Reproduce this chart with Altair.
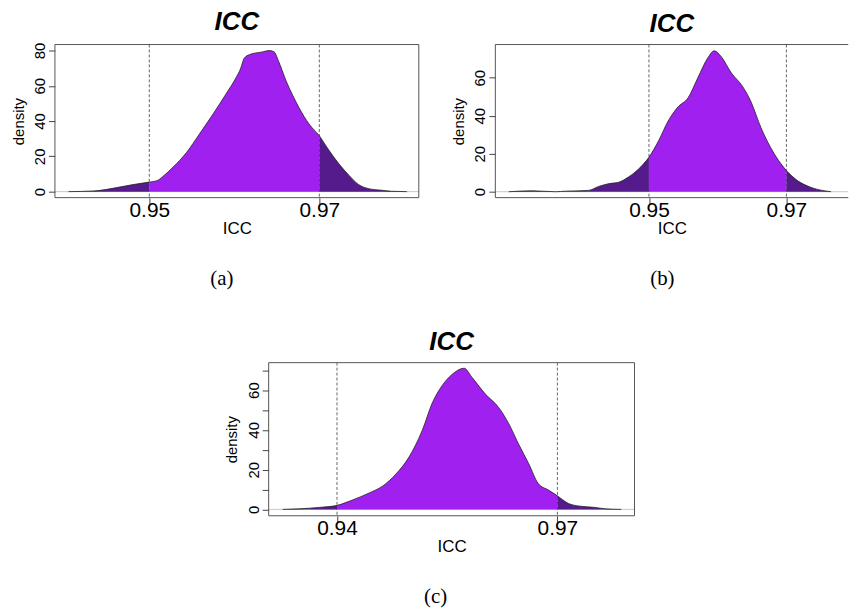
import altair as alt
import pandas as pd

# ---- data ----
A_x = [0.9405, 0.9435, 0.9462, 0.9481, 0.9500, 0.9509, 0.9516, 0.9528, 0.9544, 0.9559,
       0.9575, 0.9590, 0.9602, 0.9607, 0.9612, 0.9618, 0.9633, 0.9641, 0.9647, 0.9652,
       0.9661, 0.9669, 0.9676, 0.9688, 0.9700, 0.9711, 0.9723, 0.9735, 0.9746, 0.9758,
       0.9774, 0.9785, 0.9803]
A_y = [0.0, 0.4, 2.3, 4.0, 5.4, 6.2, 8.6, 13.9, 22.3, 32.7,
       44.0, 55.2, 64.6, 69.3, 75.9, 77.7, 79.2, 80.0, 79.2, 74.0,
       62.7, 54.3, 47.7, 38.3, 31.7, 23.7, 15.8, 9.2, 4.1, 1.7,
       0.75, 0.2, 0.0]

B_x = [0.9296, 0.9330, 0.9364, 0.9379, 0.9412, 0.9427, 0.9441, 0.9456, 0.9470, 0.9485,
       0.9500, 0.9514, 0.9528, 0.9542, 0.9557, 0.9571, 0.9586, 0.9595, 0.9605, 0.9620,
       0.9636, 0.9648, 0.9663, 0.9677, 0.9700, 0.9716, 0.9735, 0.9755, 0.9765]
B_y = [0.0, 0.5, 0.0, 0.3, 0.7, 2.8, 4.2, 5.0, 7.7, 12.0,
       18.1, 26.8, 37.2, 44.5, 49.4, 59.8, 70.6, 74.1, 71.1, 62.4,
       55.5, 47.7, 33.7, 23.3, 11.1, 5.9, 2.4, 0.5, 0.0]

C_x = [0.9326, 0.9349, 0.9376, 0.9400, 0.9421, 0.9444, 0.9462, 0.9480, 0.9498, 0.9516,
       0.9530, 0.9543, 0.9557, 0.9573, 0.9584, 0.9602, 0.9620, 0.9634, 0.9647, 0.9661,
       0.9674, 0.9688, 0.9700, 0.9715, 0.9729, 0.9751, 0.9765, 0.9787]
C_y = [0.0, 0.3, 1.0, 2.0, 4.7, 8.3, 11.7, 17.7, 26.3, 39.7,
       53.8, 62.2, 68.0, 71.0, 66.3, 58.0, 51.3, 43.0, 33.0, 23.0,
       13.0, 9.7, 6.8, 3.0, 1.7, 1.0, 0.3, 0.0]

A_bounds = [0.95, 0.97]
B_bounds = [0.95, 0.97]
C_bounds = [0.94, 0.97]

A_xticks = [0.95, 0.97]
B_xticks = [0.95, 0.97]
C_xticks = [0.94, 0.97]
A_yticks = [0, 20, 40, 60, 80]
B_yticks = [0, 20, 40, 60]
C_yticks = [0, 10, 20, 30, 40, 50, 60, 70]

captions = ["(a)", "(b)", "(c)"]

PURPLE = "#A020F0"
DARK = "#551A8B"
FONT = "Liberation Sans"


def split(xs, ys, lo, hi):
    rows = []
    for x, y in zip(xs, ys):
        if x <= lo:
            rows.append({"x": x, "y": y, "region": "left"})
        if lo <= x <= hi:
            rows.append({"x": x, "y": y, "region": "mid"})
        if x >= hi:
            rows.append({"x": x, "y": y, "region": "right"})
    return pd.DataFrame(rows)


def panel(xs, ys, bounds, xdom, ydom, W, H, xticks, yticks, caption, right_edge=True):
    lo, hi = bounds
    curve = pd.DataFrame({"x": xs, "y": ys})
    regions = split(xs, ys, lo, hi)
    one = pd.DataFrame({"a": [0]})

    y_axis = alt.Axis(
        values=yticks, labelAngle=270, labelAlign="center", labelBaseline="alphabetic",
        labelFontSize=15, labelFont=FONT, labelPadding=4, tickSize=6.5, tickColor="#444",
        labelExpr="datum.value % 20 == 0 ? datum.label : ''", labelFlush=False,
        title="density", titleFont=FONT, titleFontSize=15, titleFontWeight="normal",
        titleAngle=270, titleBaseline="bottom", titleAlign="center", titleX=-29, titleY=H / 2,
        domain=False, grid=False,
    )
    x_axis = alt.Axis(
        values=xticks, format=".2f", labelFontSize=21, labelFont=FONT, labelBaseline="alphabetic",
        labelPadding=12.5, tickSize=6.5, tickColor="#444", labelFlush=False,
        title="ICC", titleFont=FONT, titleFontSize=17, titleFontWeight="normal",
        titleBaseline="alphabetic", titleY=36, domain=False, grid=False,
    )
    X = alt.X("x:Q", scale=alt.Scale(domain=xdom, nice=False, zero=False), axis=x_axis)
    Y = alt.Y("y:Q", scale=alt.Scale(domain=ydom, nice=False, zero=False), axis=y_axis, stack=False)

    zero = alt.Chart(pd.DataFrame({"y": [0]})).mark_rule(color="#C8C8C8", strokeWidth=1).encode(y=Y)
    dashes = alt.Chart(pd.DataFrame({"x": [lo, hi]})).mark_rule(
        color="#555", strokeWidth=0.9, strokeDash=[3, 2]).encode(x=X)
    area = alt.Chart(regions).mark_area(interpolate="monotone", clip=True).encode(
        x=X, y=Y,
        color=alt.Color("region:N", scale=alt.Scale(domain=["left", "mid", "right"],
                                                    range=[DARK, PURPLE, DARK]), legend=None),
    )
    line = alt.Chart(curve).mark_line(interpolate="monotone", color="#222", strokeWidth=0.8, clip=True).encode(x=X, y=Y)

    box_c = "#555"
    top = alt.Chart(one).mark_rule(color=box_c, strokeWidth=1).encode(
        x=alt.value(0), x2=alt.value(W), y=alt.value(0))
    bottom = alt.Chart(one).mark_rule(color=box_c, strokeWidth=1).encode(
        x=alt.value(0), x2=alt.value(W), y=alt.value(H))
    left = alt.Chart(one).mark_rule(color=box_c, strokeWidth=1).encode(
        x=alt.value(0), y=alt.value(0), y2=alt.value(H))
    layers = [zero, dashes, area, line, top, bottom, left]
    if right_edge:
        right = alt.Chart(one).mark_rule(color=box_c, strokeWidth=1).encode(
            x=alt.value(W), y=alt.value(0), y2=alt.value(H))
        layers.append(right)
    cap = alt.Chart(one).mark_text(text=caption, font="Liberation Serif", fontSize=21,
                                   baseline="middle", align="center").encode(
        x=alt.value(168), y=alt.value(236))
    layers.append(cap)

    return alt.layer(*layers).properties(
        width=W, height=H,
        title=alt.TitleParams("ICC", font=FONT, fontSize=26, fontWeight="bold", fontStyle="italic",
                              anchor="middle", frame="group", baseline="alphabetic", offset=-14,
                              color="black"),
    )


pa = panel(A_x, A_y, A_bounds, [0.9389, 0.9817], [-3.4, 83.4], 366, 154, A_xticks, A_yticks, captions[0])
pb = panel(B_x, B_y, B_bounds, [0.92765, 0.979], [-3.1, 77.4], 355, 154, B_xticks, B_yticks, captions[1],
           right_edge=False)
pc = panel(C_x, C_y, C_bounds, [0.9307, 0.9805], [-3.2, 73.8], 368, 154, C_xticks, C_yticks, captions[2])

top_row = alt.hconcat(pa, pb, spacing=32)
chart = alt.vconcat(top_row, pc, spacing=40, center=True).properties(
    padding={"left": 11, "top": 7, "right": 0, "bottom": 0},
    background="white",
).configure_view(strokeWidth=0)

chart.save("out.html", embed_options={"renderer": "svg", "actions": False})
